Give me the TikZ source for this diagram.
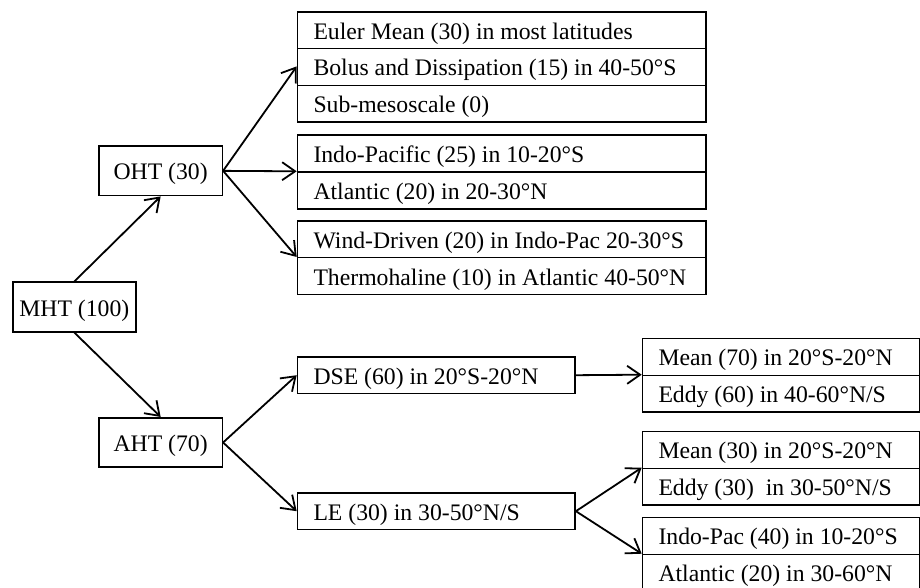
\documentclass[tikz,border=0pt]{standalone}
\usepackage{fontspec}
\setmainfont{Liberation Serif}
\usetikzlibrary{arrows.meta}
\newcommand{\boxfont}{\fontsize{23.7}{28}\selectfont}
\tikzset{
  box/.style={draw, line width=1.6pt, rectangle, inner sep=0pt, text height=21pt, text depth=3pt,
    font=\boxfont},
  cbox/.style={box, minimum width=123.3pt, minimum height=49.5pt},
  lbox/.style={box, anchor=north west, text width=#1, align=flush left, minimum height=36.8pt,
    execute at begin node={\hspace*{16pt}}},
  grp/.style={rectangle, inner sep=0pt, anchor=north west},
  arr/.style={-{Straight Barb[length=13pt,width=18pt]}, line width=1.8pt},
}
\begin{document}
\begin{tikzpicture}[x=1pt,y=-1pt]
\useasboundingbox (0,0) rectangle (920,588);
\clip (0,0) rectangle (920,588);
% left column
\node[cbox] (mht) at (74.35,307) {MHT (100)};
\node[cbox] (oht) at (160.65,170.85) {OHT (30)};
\node[cbox] (aht) at (160.65,442.5) {AHT (70)};
% ocean groups
\node[lbox=408.3pt] (a1) at (296.7,11) {Euler Mean (30) in most latitudes};
\node[lbox=408.3pt] (a2) at (296.7,47.8) {Bolus and Dissipation (15) in 40-50°S};
\node[lbox=408.3pt] (a3) at (296.7,84.6) {Sub-mesoscale (0)};
\node[grp, minimum width=408.3pt, minimum height=110.4pt] (gA) at (296.7,11) {};
\node[lbox=408.3pt] (b1) at (296.7,134.3) {Indo-Pacific (25) in 10-20°S};
\node[lbox=408.3pt] (b2) at (296.7,171.1) {Atlantic (20) in 20-30°N};
\node[grp, minimum width=408.3pt, minimum height=73.6pt] (gB) at (296.7,134.3) {};
\node[lbox=408.3pt] (c1) at (296.7,220) {Wind-Driven (20) in Indo-Pac 20-30°S};
\node[lbox=408.3pt] (c2) at (296.7,256.8) {Thermohaline (10) in Atlantic 40-50°N};
\node[grp, minimum width=408.3pt, minimum height=73.6pt] (gC) at (296.7,220) {};
% atmosphere
\node[lbox=277.6pt] (dse) at (296.7,356) {DSE (60) in 20°S-20°N};
\node[lbox=277.6pt] (le) at (296.7,492) {LE (30) in 30-50°N/S};
\node[lbox=277.6pt] (d1) at (641.7,337.7) {Mean (70) in 20°S-20°N};
\node[lbox=277.6pt] (d2) at (641.7,374.5) {Eddy (60) in 40-60°N/S};
\node[grp, minimum width=277.6pt, minimum height=73.6pt] (gD) at (641.7,337.7) {};
\node[lbox=277.6pt] (e1) at (641.7,430.7) {Mean (30) in 20°S-20°N};
\node[lbox=277.6pt] (e2) at (641.7,467.5) {Eddy (30)~ in 30-50°N/S};
\node[grp, minimum width=277.6pt, minimum height=73.6pt] (gE) at (641.7,430.7) {};
\node[lbox=277.6pt] (f1) at (641.7,516.7) {Indo-Pac (40) in 10-20°S};
\node[lbox=277.6pt] (f2) at (641.7,553.5) {Atlantic (20) in 30-60°N};
\node[grp, minimum width=277.6pt, minimum height=73.6pt] (gF) at (641.7,516.7) {};
% connectors
\draw[arr] (mht.north) -- (oht.south);
\draw[arr] (mht.south) -- (aht.north);
\draw[arr] (oht.east) -- (gA.west);
\draw[arr] (oht.east) -- (gB.west);
\draw[arr] (oht.east) -- (gC.west);
\draw[arr] (aht.east) -- (dse.west);
\draw[arr] (aht.east) -- (le.west);
\draw[arr] (dse.east) -- (gD.west);
\draw[arr] (le.east) -- (gE.west);
\draw[arr] (le.east) -- (gF.west);
\end{tikzpicture}
\end{document}
